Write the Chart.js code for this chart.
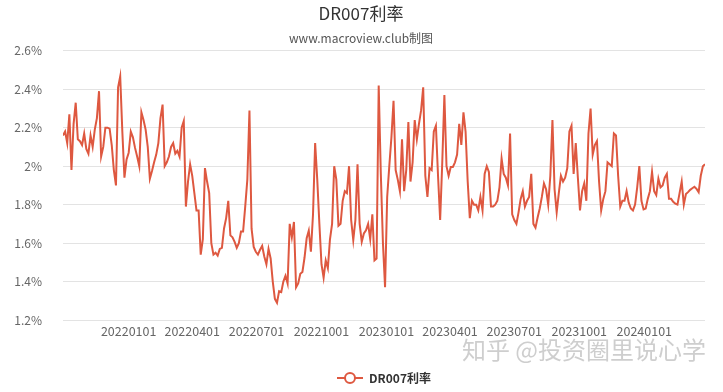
<!DOCTYPE html>
<html>
<head>
<meta charset="utf-8">
<script src="https://cdn.jsdelivr.net/npm/chart.js@4/dist/chart.umd.min.js"></script>
<style>
  html, body { margin: 0; padding: 0; background: #ffffff; }
  #wrap { width: 723px; height: 392px; position: relative; }
</style>
</head>
<body>
<div id="wrap"><canvas id="c" width="723" height="392"></canvas></div>
<script>
// ---- data ----
const seriesName = 'DR007利率';
const startDate = '20210930';   // first observation
const stepDays = 3;             // one reading every 3 calendar days
const rates = [
  2.16, 2.18, 2.12, 2.27, 1.98, 2.22, 2.33, 2.14, 2.13, 2.11,
  2.17, 2.09, 2.065, 2.16, 2.10, 2.19, 2.25, 2.39, 2.05, 2.10,
  2.20, 2.20, 2.195, 2.11, 1.98, 1.90, 2.41, 2.467, 2.18, 1.94,
  2.035, 2.07, 2.18, 2.15, 2.095, 2.05, 2.00, 2.28, 2.24, 2.19,
  2.10, 1.935, 1.975, 2.02, 2.06, 2.12, 2.25, 2.32, 2.00, 2.02,
  2.05, 2.10, 2.12, 2.065, 2.08, 2.05, 2.20, 2.235, 1.79, 1.92,
  2.01, 1.95, 1.86, 1.77, 1.77, 1.54, 1.62, 1.99, 1.92, 1.86,
  1.60, 1.54, 1.55, 1.535, 1.57, 1.575, 1.676, 1.73, 1.82, 1.64,
  1.63, 1.606, 1.575, 1.60, 1.66, 1.66, 1.79, 1.93, 2.29, 1.675,
  1.58, 1.555, 1.54, 1.565, 1.585, 1.53, 1.49, 1.57, 1.52, 1.40,
  1.31, 1.29, 1.35, 1.345, 1.40, 1.43, 1.39, 1.70, 1.63, 1.71,
  1.37, 1.39, 1.44, 1.45, 1.525, 1.625, 1.665, 1.555, 1.75, 2.12,
  1.93, 1.70, 1.49, 1.42, 1.51, 1.47, 1.62, 1.70, 2.00, 1.93,
  1.69, 1.70, 1.82, 1.87, 1.86, 2.00, 1.72, 1.615, 1.72, 2.01,
  1.70, 1.607, 1.65, 1.667, 1.70, 1.62, 1.75, 1.51, 1.52, 2.42,
  1.96, 1.60, 1.37, 1.84, 2.00, 2.15, 2.34, 1.98, 1.93, 1.87,
  2.14, 1.87, 1.98, 2.23, 1.92, 2.02, 2.24, 2.14, 2.22, 2.29,
  2.41, 1.95, 1.84, 1.99, 1.98, 2.18, 2.21, 1.95, 1.72, 2.02,
  2.37, 2.00, 1.95, 1.996, 1.996, 2.02, 2.06, 2.22, 2.11, 2.28,
  2.18, 1.92, 1.73, 1.82, 1.80, 1.80, 1.77, 1.84, 1.77, 1.96,
  2.00, 1.97, 1.79, 1.79, 1.80, 1.82, 1.89, 2.04, 1.96, 1.94,
  1.90, 2.17, 1.75, 1.72, 1.70, 1.76, 1.83, 1.87, 1.79, 1.82,
  1.84, 1.96, 1.70, 1.68, 1.733, 1.78, 1.84, 1.91, 1.88, 1.80,
  1.95, 2.24, 1.88, 1.76, 1.86, 1.95, 1.92, 1.94, 1.99, 2.18,
  2.21, 1.96, 2.12, 1.94, 1.77, 1.87, 1.91, 1.82, 2.17, 2.30,
  2.06, 2.11, 2.13, 1.92, 1.77, 1.83, 1.87, 2.02, 2.01, 2.00,
  2.17, 2.16, 1.95, 1.79, 1.82, 1.82, 1.87, 1.81, 1.78, 1.77,
  1.80, 1.89, 2.00, 1.82, 1.775, 1.78, 1.83, 1.87, 1.97, 1.87,
  1.85, 1.935, 1.89, 1.90, 1.94, 1.96, 1.83, 1.83, 1.815, 1.805,
  1.80, 1.86, 1.92, 1.80, 1.855, 1.865, 1.877, 1.885, 1.893, 1.882,
  1.865, 1.95, 2.00, 2.01
];
const tickLabels = ['20220101','20220401','20220701','20221001','20230101','20230401','20230701','20231001','20240101'];
const yMin = 1.2, yMax = 2.6, yStep = 0.2;
const titleText = 'DR007利率';
const subtitleText = 'www.macroview.club制图';
const watermarkText = '知乎 @投资圈里说心学';

// ---- helpers ----
function dayNum(s) {
  return Date.UTC(+s.slice(0,4), +s.slice(4,6) - 1, +s.slice(6,8)) / 86400000;
}
const d0 = dayNum(startDate);
const points = rates.map((v, i) => ({ x: d0 + i * stepDays, y: v }));
const tickDays = tickLabels.map(dayNum);
const labelByDay = {};
tickLabels.forEach((l, i) => { labelByDay[tickDays[i]] = l; });

const lineColor = '#de5840';
const FONT = "'Microsoft YaHei', 'Noto Sans CJK SC', sans-serif";
Chart.defaults.font.family = FONT;

// legend symbol: line with hollow circle
const sym = document.createElement('canvas');
sym.width = 26; sym.height = 14;
(function () {
  const g = sym.getContext('2d');
  g.strokeStyle = lineColor; g.lineWidth = 2;
  g.beginPath(); g.moveTo(0, 7); g.lineTo(26, 7); g.stroke();
  g.beginPath(); g.arc(13, 7, 5, 0, Math.PI * 2);
  g.fillStyle = '#fff'; g.fill(); g.stroke();
})();

const watermark = {
  id: 'watermark',
  afterDraw(chart) {
    const ctx = chart.ctx;
    ctx.save();
    ctx.font = "24px 'Noto Sans CJK SC', sans-serif";
    ctx.textAlign = 'right';
    ctx.textBaseline = 'middle';
    ctx.fillStyle = 'rgba(190,190,190,0.75)';
    ctx.fillText(watermarkText, 706, 350);
    ctx.restore();
  }
};

// fine placement of the title blocks and the legend to match the reference
const boxShift = {
  id: 'boxShift',
  afterLayout(chart) {
    chart.boxes.forEach(b => {
      const t = b.options && b.options.text;
      if (t === titleText || t === subtitleText) { b.left += 3; b.right += 3; }
    });
    const lg = chart.legend;
    if (lg) { lg.left += 26; lg.right += 26; lg.top += 6; lg.bottom += 6; }
  }
};

new Chart(document.getElementById('c'), {
  type: 'line',
  data: {
    datasets: [{
      label: seriesName,
      data: points,
      borderColor: lineColor,
      backgroundColor: '#fff',
      borderWidth: 2,
      pointRadius: 0,
      pointHoverRadius: 0,
      tension: 0,
      pointStyle: sym
    }]
  },
  options: {
    responsive: false,
    animation: false,
    events: [],
    layout: { padding: { left: 11, right: 18, top: 0, bottom: 4 } },
    plugins: {
      title: {
        display: true, text: titleText, color: '#333',
        font: { size: 17, weight: 'normal', family: FONT },
        padding: { top: 3, bottom: 7 }
      },
      subtitle: {
        display: true, text: subtitleText, color: '#555',
        font: { size: 12, weight: 'normal', family: FONT },
        padding: { top: 1, bottom: 5 }
      },
      legend: {
        position: 'bottom',
        labels: {
          usePointStyle: true, pointStyleWidth: 26, color: '#333',
          font: { size: 12, weight: 'bold', family: FONT },
          padding: 8
        }
      },
      tooltip: { enabled: false }
    },
    scales: {
      x: {
        type: 'linear',
        min: d0,
        max: d0 + (rates.length - 1) * stepDays,
        grid: { display: false, drawTicks: false, tickLength: 0 },
        border: { display: false },
        afterBuildTicks(scale) { scale.ticks = tickDays.map(v => ({ value: v })); },
        afterFit(scale) { scale.height = 38; },
        ticks: {
          autoSkip: false, maxRotation: 0, color: '#666',
          font: { size: 12.5 }, padding: 4,
          callback: (v) => labelByDay[v] || ''
        }
      },
      y: {
        min: yMin, max: yMax,
        grid: { color: '#e3e3e3', drawTicks: false },
        border: { display: false },
        afterFit(scale) { scale.width = 52; },
        ticks: {
          stepSize: yStep, color: '#666', font: { size: 12 }, padding: 21,
          callback: (v) => (+v.toFixed(1)) + '%'
        }
      }
    }
  },
  plugins: [watermark, boxShift]
});
</script>
</body>
</html>
